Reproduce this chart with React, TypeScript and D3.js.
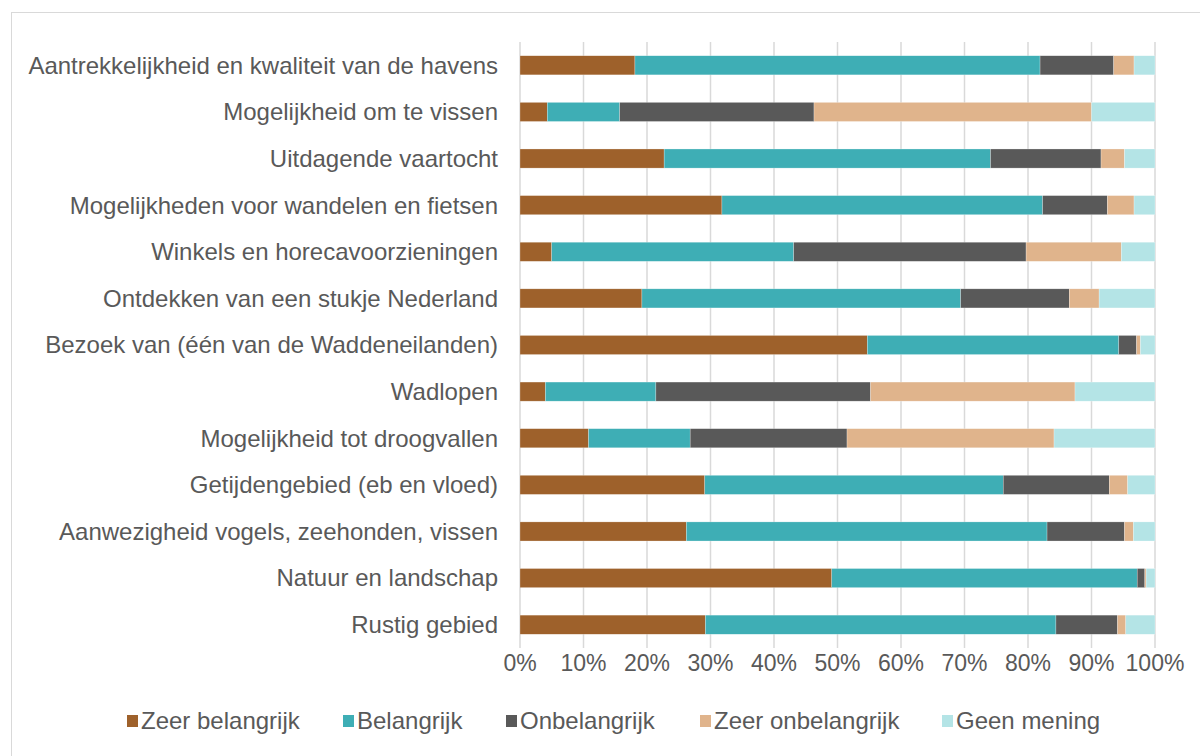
import { scaleBand, scaleLinear, scaleOrdinal, stack } from "d3";

// categories, top to bottom
const categories = [
  "Aantrekkelijkheid en kwaliteit van de havens",
  "Mogelijkheid om te vissen",
  "Uitdagende vaartocht",
  "Mogelijkheden voor wandelen en fietsen",
  "Winkels en horecavoorzieningen",
  "Ontdekken van een stukje Nederland",
  "Bezoek van (één van de Waddeneilanden)",
  "Wadlopen",
  "Mogelijkheid tot droogvallen",
  "Getijdengebied (eb en vloed)",
  "Aanwezigheid vogels, zeehonden, vissen",
  "Natuur en landschap",
  "Rustig gebied",
];

const seriesNames = [
  "Zeer belangrijk",
  "Belangrijk",
  "Onbelangrijk",
  "Zeer onbelangrijk",
  "Geen mening",
];

const zeerBelangrijk = [18.1, 4.3, 22.7, 31.8, 5.0, 19.2, 54.7, 4.0, 10.8, 29.1, 26.2, 49.1, 29.2];
const belangrijk = [63.8, 11.4, 51.4, 50.5, 38.1, 50.2, 39.6, 17.4, 16.0, 47.0, 56.8, 48.1, 55.2];
const onbelangrijk = [11.6, 30.6, 17.4, 10.2, 36.6, 17.1, 2.8, 33.8, 24.7, 16.7, 12.2, 1.2, 9.7];
const zeerOnbelangrijk = [3.2, 43.7, 3.7, 4.2, 15.0, 4.7, 0.6, 32.2, 32.6, 2.9, 1.4, 0.2, 1.3];
const geenMening = [3.3, 10.0, 4.8, 3.3, 5.3, 8.8, 2.3, 12.6, 15.9, 4.3, 3.4, 1.4, 4.6];

const tickValues = [0, 10, 20, 30, 40, 50, 60, 70, 80, 90, 100];

const COLORS = ["#9E612B", "#3EAEB5", "#595959", "#E0B48C", "#B4E4E6"];

const WIDTH = 1200;
const HEIGHT = 756;
const PLOT = { left: 520, right: 1155, top: 42, bottom: 648 };
const FONT = "'Liberation Sans', Arial, sans-serif";
const TEXT = "#595959";

const App = () => {
  const rows = categories.map((c, i) => ({
    category: c,
    "Zeer belangrijk": zeerBelangrijk[i],
    Belangrijk: belangrijk[i],
    Onbelangrijk: onbelangrijk[i],
    "Zeer onbelangrijk": zeerOnbelangrijk[i],
    "Geen mening": geenMening[i],
  }));

  const stacked = stack<any>().keys(seriesNames)(rows);

  const xScale = scaleLinear().domain([0, 100]).range([PLOT.left, PLOT.right]);
  const yScale = scaleBand()
    .domain(categories)
    .range([PLOT.top, PLOT.bottom])
    .paddingInner(0.59)
    .paddingOuter(0.295);
  const color = scaleOrdinal<string, string>().domain(seriesNames).range(COLORS);

  // legend layout (x of each swatch)
  const legendX = [127, 343, 506, 700, 942];

  return (
    <svg
      width={WIDTH}
      height={HEIGHT}
      style={{ position: "absolute", left: 0, top: 0, display: "block" }}
      fontFamily={FONT}
    >
      <rect x={0} y={0} width={WIDTH} height={HEIGHT} fill="#fff" />
      <rect
        x={11.5}
        y={12.5}
        width={WIDTH + 20}
        height={HEIGHT + 20}
        fill="none"
        stroke="#d9d9d9"
        strokeWidth={1}
      />

      {/* gridlines */}
      {tickValues.map((t) => (
        <line
          key={t}
          x1={xScale(t)}
          x2={xScale(t)}
          y1={PLOT.top}
          y2={PLOT.bottom}
          stroke="#d9d9d9"
          strokeWidth={1.5}
        />
      ))}

      {/* bars */}
      {stacked.map((s) => (
        <g key={s.key} fill={color(s.key)}>
          {s.map((d) => (
            <rect
              key={d.data.category}
              x={xScale(d[0])}
              y={yScale(d.data.category)}
              width={Math.max(0, xScale(d[1]) - xScale(d[0]))}
              height={yScale.bandwidth()}
              stroke="#ffffff"
              strokeOpacity={0.5}
              strokeWidth={0.5}
            />
          ))}
        </g>
      ))}

      {/* category labels */}
      {categories.map((c) => (
        <text
          key={c}
          x={PLOT.left - 22}
          y={(yScale(c) ?? 0) + yScale.bandwidth() / 2}
          dy="0.35em"
          textAnchor="end"
          fontSize={24}
          fill={TEXT}
        >
          {c}
        </text>
      ))}

      {/* x tick labels */}
      {tickValues.map((t) => (
        <text
          key={t}
          x={xScale(t)}
          y={663}
          dy="0.35em"
          textAnchor="middle"
          fontSize={23}
          fill={TEXT}
        >
          {t}%
        </text>
      ))}

      {/* legend */}
      {seriesNames.map((name, i) => (
        <g key={name} transform={`translate(${legendX[i]},721)`}>
          <rect x={0} y={-6} width={11} height={12} fill={color(name)} />
          <text x={14} y={0} dy="0.35em" fontSize={24} fill={TEXT}>
            {name}
          </text>
        </g>
      ))}
    </svg>
  );
};

export default App;
